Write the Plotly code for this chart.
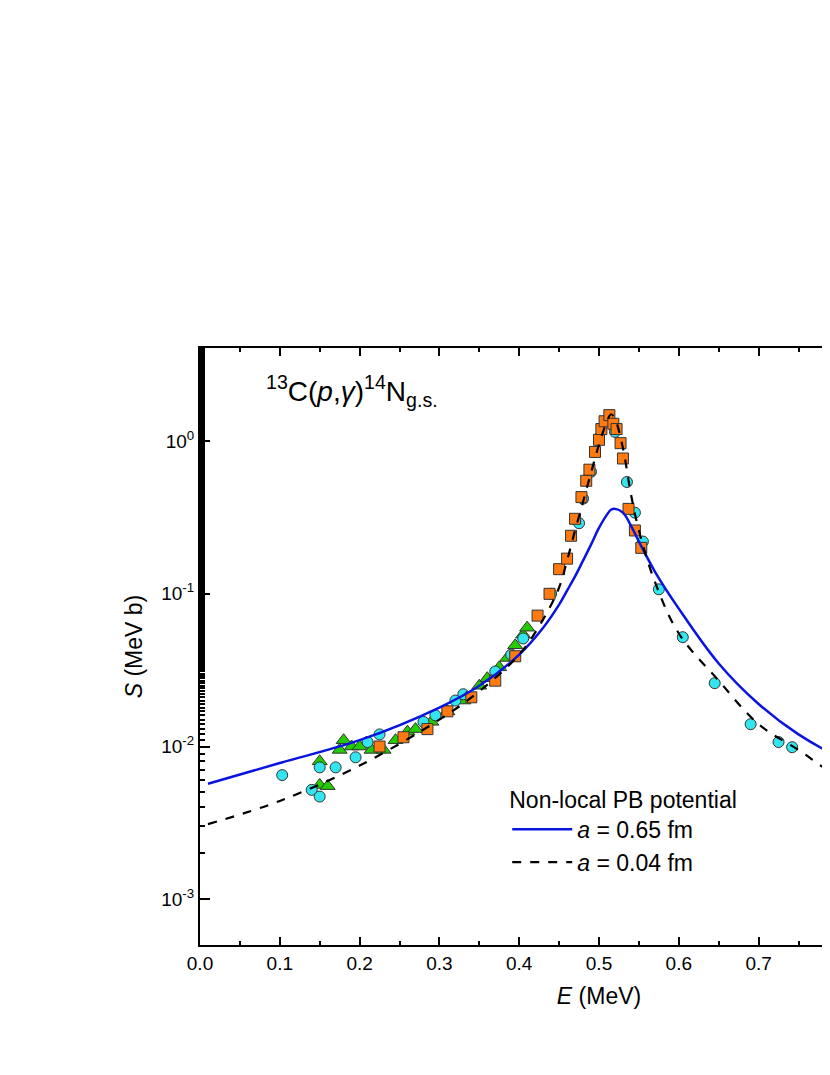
import plotly.graph_objects as go

E_curve = [0.01,0.1,0.2,0.3,0.35,0.4,0.43,0.45,0.46,0.47,0.48,0.49,0.5,0.51,0.515,0.52,0.53,0.54,0.55,0.57,0.6,0.65,0.7,0.75,0.8,0.9,1.0]
S_a065 = [5.7e-3,7.8e-3,1.1e-2,1.8e-2,2.5e-2,4.0e-2,6.0e-2,8.5e-2,0.105,0.13,0.165,0.21,0.27,0.33,0.355,0.36,0.34,0.28,0.22,0.14,0.08,0.035,0.019,0.012,0.0086,0.0055,0.0042]
S_a004 = [3.1e-3,4.4e-3,7.5e-3,1.5e-2,2.3e-2,4.0e-2,6.8e-2,0.11,0.165,0.26,0.4,0.62,0.95,1.35,1.5,1.4,0.9,0.45,0.26,0.12,0.055,0.027,0.014,0.0095,0.0064,0.0042,0.003]

E_circ = [0.103,0.14,0.15,0.15,0.17,0.195,0.21,0.225,0.28,0.295,0.32,0.33,0.37,0.39,0.405,0.44,0.475,0.48,0.49,0.5,0.52,0.535,0.545,0.555,0.575,0.605,0.645,0.69,0.725,0.742,0.8]
S_circ = [6.5e-3,5.2e-3,4.7e-3,7.3e-3,7.3e-3,8.5e-3,1.07e-2,1.2e-2,1.45e-2,1.6e-2,2.0e-2,2.2e-2,3.1e-2,4.0e-2,5.1e-2,0.1,0.29,0.42,0.63,1.05,1.15,0.54,0.34,0.22,0.107,0.052,0.026,0.014,0.0107,0.0099,0.0078]

E_tri = [0.15,0.16,0.15,0.175,0.18,0.19,0.2,0.215,0.23,0.245,0.26,0.27,0.29,0.31,0.33,0.35,0.36,0.375,0.385,0.395,0.405,0.41]
S_tri = [5.6e-3,5.5e-3,8.0e-3,9.5e-3,1.1e-2,1.0e-2,1.0e-2,9.5e-3,9.5e-3,1.1e-2,1.25e-2,1.3e-2,1.45e-2,1.7e-2,2.0e-2,2.5e-2,2.8e-2,3.3e-2,3.8e-2,4.6e-2,5.4e-2,6.0e-2]

E_sq = [0.225,0.255,0.285,0.31,0.34,0.37,0.395,0.423,0.438,0.45,0.46,0.465,0.47,0.478,0.484,0.488,0.495,0.5,0.503,0.507,0.513,0.518,0.522,0.527,0.53,0.537,0.545,0.553]
S_sq = [1.0e-2,1.15e-2,1.3e-2,1.7e-2,2.1e-2,2.7e-2,3.9e-2,7.2e-2,0.1,0.145,0.17,0.24,0.31,0.43,0.55,0.65,0.85,1.02,1.2,1.35,1.48,1.3,1.2,0.97,0.77,0.36,0.26,0.2]

y_tickvals = [1e-3, 1e-2, 1e-1, 1]
y_ticktext = ["10<sup>-3</sup>", "10<sup>-2</sup>", "10<sup>-1</sup>", "10<sup>0</sup>"]

fig = go.Figure()
mk = dict(size=11, line=dict(color="#333", width=1))
fig.add_trace(go.Scatter(x=E_tri, y=S_tri, mode="markers", showlegend=False,
    marker=dict(symbol="triangle-up", color="#22cc00", size=13, line=dict(color="#333", width=1))))
fig.add_trace(go.Scatter(x=E_circ, y=S_circ, mode="markers", showlegend=False,
    marker=dict(symbol="circle", color="#33e5ee", **mk)))
fig.add_trace(go.Scatter(x=E_sq, y=S_sq, mode="markers", showlegend=False,
    marker=dict(symbol="square", color="#ff7a10", **mk)))
fig.add_trace(go.Scatter(x=E_curve, y=S_a065, mode="lines", line=dict(color="#0a14e0", width=2.5, shape="spline"),
    name="<i>a</i> = 0.65 fm"))
fig.add_trace(go.Scatter(x=E_curve, y=S_a004, mode="lines", line=dict(color="black", width=2.2, dash="dash", shape="spline"),
    name="<i>a</i> = 0.04 fm"))

axcommon = dict(showline=True, linecolor="black", linewidth=2, mirror="ticks", ticks="inside",
                tickcolor="black", tickwidth=2, showgrid=False, zeroline=False,
                tickfont=dict(size=19, color="black"))
fig.update_xaxes(range=[0, 1.0], dtick=0.1, tickformat=".1f", ticklen=8,
                 minor=dict(ticks="inside", ticklen=4, dtick=0.05, tickcolor="black", tickwidth=1.5),
                 title=dict(text="<i>E</i> (MeV)", font=dict(size=23, color="black")), **axcommon)
fig.update_yaxes(type="log", range=[-3.3, 0.61], tickvals=y_tickvals, ticktext=y_ticktext, ticklen=10,
                 minor=dict(ticks="inside", ticklen=5, tickcolor="black", tickwidth=1.5),
                 title=dict(text="<i>S</i> (MeV b)", font=dict(size=23, color="black"), standoff=12), **axcommon)

fig.add_annotation(x=0.08, y=0.965, xref="paper", yref="paper", xanchor="left", yanchor="top",
    text="<sup>13</sup>C(<i>p</i>,<i>γ</i>)<sup>14</sup>N<sub>g.s.</sub>", showarrow=False,
    font=dict(size=28, color="black"))

fig.update_layout(width=1100, height=1075, margin=dict(l=192, r=110, t=340, b=138),
    plot_bgcolor="white", paper_bgcolor="white",
    font=dict(family="Liberation Sans, Arial", color="black"),
    legend=dict(x=0.385, y=0.28, xanchor="left", yanchor="top", bgcolor="rgba(0,0,0,0)",
                title=dict(text="Non-local PB potential", font=dict(size=23), side="top"),
                font=dict(size=23), itemwidth=60, tracegroupgap=0))
fig.write_html("out.html")
